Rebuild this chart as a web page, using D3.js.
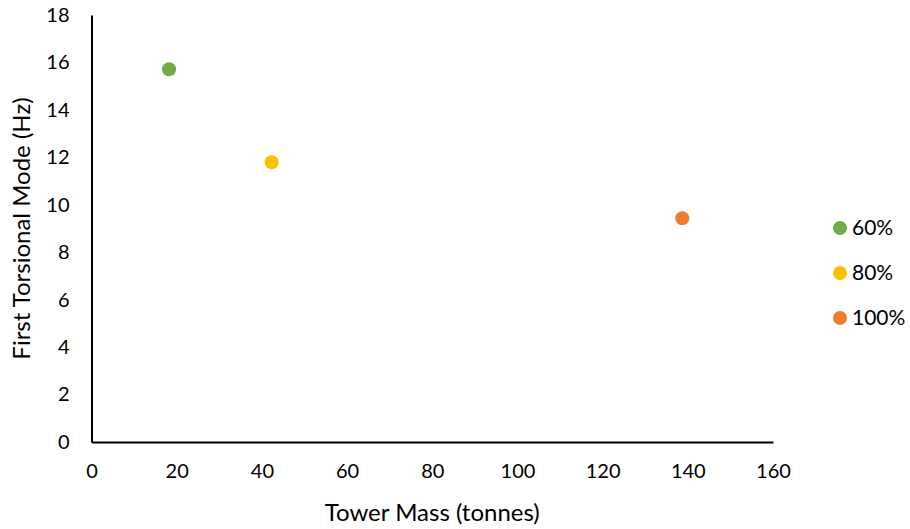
<!DOCTYPE html>
<html>
<head>
<meta charset="utf-8">
<script src="https://cdn.jsdelivr.net/npm/d3@7"></script>
<style>
  body { margin: 0; background: #fff; }
  svg text { font-family: Lato, "Open Sans", sans-serif; fill: #000; }
</style>
</head>
<body>
<svg id="chart" width="910" height="529"></svg>
<script>
// Scenario labels, tower masses (tonnes) and first torsional frequencies (Hz)
const scenarios = ["60%", "80%", "100%"];
const towerMass = [18.2, 42.3, 138.7];
const torsionalFreq = [15.71, 11.79, 9.43];
const colors = ["#70AD47", "#FFC000", "#ED7D31"];
const xTicks = [0, 20, 40, 60, 80, 100, 120, 140, 160];
const yTicks = [0, 2, 4, 6, 8, 10, 12, 14, 16, 18];

const svg = d3.select("#chart");
const plot = { left: 91.5, right: 773, top: 15, bottom: 442 };

const x = d3.scaleLinear().domain([0, 160]).range([plot.left, plot.right]);
const y = d3.scaleLinear().domain([0, 18]).range([plot.bottom, plot.top]);

// Axes: plain lines with no tick marks
const xAxis = svg.append("g")
  .attr("transform", `translate(0,${plot.bottom})`)
  .call(d3.axisBottom(x).tickValues(xTicks).tickSize(0).tickPadding(22).tickFormat(d3.format("d")));
xAxis.select(".domain").attr("stroke", "#000").attr("stroke-width", 2);
xAxis.selectAll("text").attr("font-size", 20).style("font-family", "Lato, 'Open Sans', sans-serif");

const yAxis = svg.append("g")
  .attr("transform", `translate(${plot.left},0)`)
  .call(d3.axisLeft(y).tickValues(yTicks).tickSize(0).tickPadding(22).tickFormat(d3.format("d")));
yAxis.select(".domain").attr("stroke", "#000").attr("stroke-width", 2);
yAxis.selectAll("text").attr("font-size", 20).style("font-family", "Lato, 'Open Sans', sans-serif");

// Axis titles
svg.append("text")
  .attr("x", (plot.left + plot.right) / 2)
  .attr("y", 521)
  .attr("text-anchor", "middle")
  .attr("font-size", 24)
  .text("Tower Mass (tonnes)");

svg.append("text")
  .attr("transform", `translate(30,${(plot.top + plot.bottom) / 2}) rotate(-90)`)
  .attr("text-anchor", "middle")
  .attr("font-size", 24)
  .text("First Torsional Mode (Hz)");

// Data points
svg.append("g").selectAll("circle")
  .data(scenarios)
  .join("circle")
  .attr("cx", (d, i) => x(towerMass[i]))
  .attr("cy", (d, i) => y(torsionalFreq[i]))
  .attr("r", 7)
  .attr("fill", (d, i) => colors[i]);

// Legend
const legend = svg.append("g").selectAll("g")
  .data(scenarios)
  .join("g")
  .attr("transform", (d, i) => `translate(840,${228 + i * 45})`);
legend.append("circle").attr("r", 7).attr("fill", (d, i) => colors[i]);
legend.append("text")
  .attr("x", 12)
  .attr("dy", "0.35em")
  .attr("font-size", 21)
  .text(d => d);
</script>
</body>
</html>
